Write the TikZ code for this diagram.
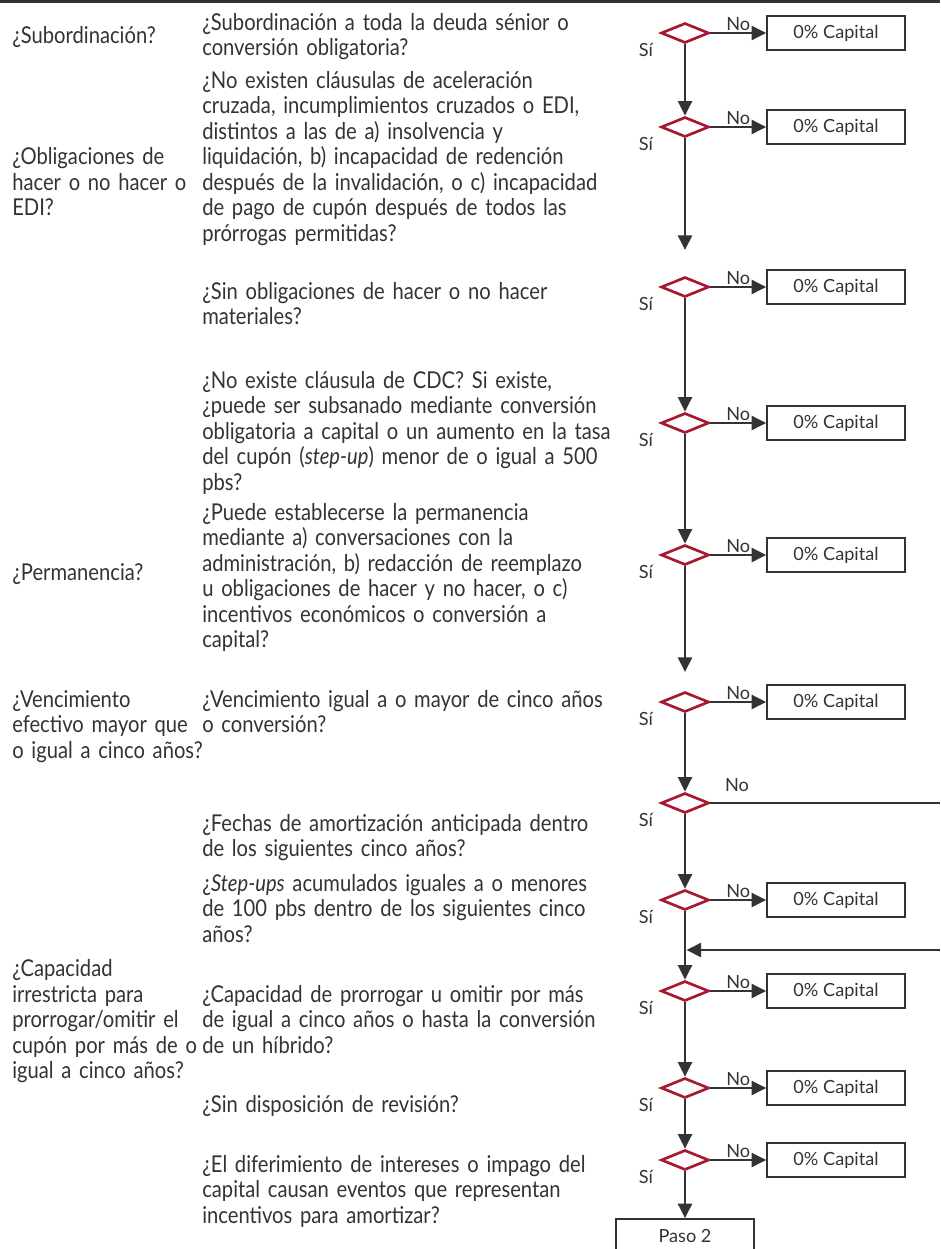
\documentclass[tikz,border=0pt]{standalone}
\usepackage{fontspec}
\setmainfont{Lato}[FakeStretch=0.87,WordSpace=0.72]
\newfontfamily\tagfont{Lato}
\usepackage{xcolor}
\usetikzlibrary{positioning,shapes.geometric,arrows.meta}
\definecolor{ink}{HTML}{333333}
\definecolor{crimson}{HTML}{A6192E}
\setlength{\lineskiplimit}{-20pt}
\tikzset{
        txt/.style={anchor=base west,inner sep=0,align=left,text=ink,
            font=\fontsize{17.4}{19.125}\selectfont},
        qtxt/.style={txt,text width=380pt},
        ltxt/.style={txt,text width=180pt},
        choice/.style={diamond,draw=crimson,line width=2pt,minimum width=36pt,
            minimum height=15pt,inner sep=0,aspect=2.4},
        capbox/.style={draw=ink,line width=1.2pt,minimum width=103.5pt,
            minimum height=25.5pt,inner sep=0,text=ink,font=\tagfont\fontsize{13.6}{16}\selectfont},
        flow/.style={ink,line width=2pt,-{Triangle[length=11pt,width=10.5pt]}},
        wire/.style={ink,line width=2pt},
        tag/.style={text=ink,font=\tagfont\fontsize{13.6}{16}\selectfont,inner sep=1pt},
}

\begin{document}
\begin{tikzpicture}[x=0.75pt,y=-0.75pt]
        \useasboundingbox (0,0) rectangle (940,1249);
        \draw[ink,line width=2.25pt] (0,1.5) -- (940,1.5); % top rule

        % Left column
        \node[ltxt] (l1) at (12,43) {¿Subordinación?};
        \node[ltxt] (l2) at (12,164.5) {¿Obligaciones de\\hacer o no hacer o\\EDI?};
        \node[ltxt] (l3) at (12,580) {¿Permanencia?};
        \node[ltxt] (l4) at (12,707) {¿Vencimiento\\efectivo mayor que\\o igual a cinco años?};
        \node[ltxt] (l5) at (12,976.5) {¿Capacidad\\irrestricta para\\prorrogar/omitir el\\cupón por más de o\\igual a cinco años?};

        % Questions
        \node[qtxt] (q1) at (202,30) {¿Subordinación a toda la deuda sénior o\\conversión obligatoria?};
        \node[qtxt] (q2) at (202,88) {¿No existen cláusulas de aceleración\\cruzada, incumplimientos cruzados o EDI,\\distintos a las de a) insolvencia y\\liquidación, b) incapacidad de redención\\después de la invalidación, o c) incapacidad\\de pago de cupón después de todos las\\prórrogas permitidas?};
        \node[qtxt] (q3) at (202,299) {¿Sin obligaciones de hacer o no hacer\\materiales?};
        \node[qtxt] (q4) at (202,388) {¿No existe cláusula de CDC? Si existe,\\¿puede ser subsanado mediante conversión\\obligatoria a capital o un aumento en la tasa\\del cupón (\textit{step-up}) menor de o igual a 500\\pbs?};
        \node[qtxt] (q5) at (202,520) {¿Puede establecerse la permanencia\\mediante a) conversaciones con la\\administración, b) redacción de reemplazo\\u obligaciones de hacer y no hacer, o c)\\incentivos económicos o conversión a\\capital?};
        \node[qtxt] (q6) at (202,707) {¿Vencimiento igual a o mayor de cinco años\\o conversión?};
        \node[qtxt] (q7) at (202,831) {¿Fechas de amortización anticipada dentro\\de los siguientes cinco años?};
        \node[qtxt] (q8) at (202,891) {¿\textit{Step-ups} acumulados iguales a o menores\\de 100 pbs dentro de los siguientes cinco\\años?};
        \node[qtxt] (q9) at (202,1002) {¿Capacidad de prorrogar u omitir por más\\de igual a cinco años o hasta la conversión\\de un híbrido?};
        \node[qtxt] (q10) at (202,1112) {¿Sin disposición de revisión?};
        \node[qtxt] (q11) at (202,1172) {¿El diferimiento de intereses o impago del\\capital causan eventos que representan\\incentivos para amortizar?};

        % Decisions
        \node[choice] (d1) at (685,33) {};
        \node[choice] (d2) at (685,127) {};
        \node[choice] (d3) at (685,287) {};
        \node[choice] (d4) at (685,423) {};
        \node[choice] (d5) at (685,555) {};
        \node[choice] (d6) at (685,702) {};
        \node[choice] (d7) at (685,803) {};
        \node[choice] (d8) at (685,900) {};
        \node[choice] (d9) at (685,991) {};
        \node[choice] (d10) at (685,1088) {};
        \node[choice] (d11) at (685,1160) {};

        % Outcomes
        \node[capbox] (c1) at (836,33) {0\% Capital};
        \node[capbox] (c2) at (836,127) {0\% Capital};
        \node[capbox] (c3) at (836,287) {0\% Capital};
        \node[capbox] (c4) at (836,423) {0\% Capital};
        \node[capbox] (c5) at (836,555) {0\% Capital};
        \node[capbox] (c6) at (836,702) {0\% Capital};
        \node[capbox] (c8) at (836,900) {0\% Capital};
        \node[capbox] (c9) at (836,991) {0\% Capital};
        \node[capbox] (c10) at (836,1088) {0\% Capital};
        \node[capbox] (c11) at (836,1160) {0\% Capital};
        \node[capbox] (p2) at (685,1236) {Paso 2};

        % Sí labels
        \node[tag] (s1) at (646,50) {Sí};
        \node[tag] (s2) at (646,144) {Sí};
        \node[tag] (s3) at (646,304) {Sí};
        \node[tag] (s4) at (646,440) {Sí};
        \node[tag] (s5) at (646,572) {Sí};
        \node[tag] (s6) at (646,719) {Sí};
        \node[tag] (s7) at (646,820) {Sí};
        \node[tag] (s8) at (646,917) {Sí};
        \node[tag] (s9) at (646,1008) {Sí};
        \node[tag] (s10) at (646,1105) {Sí};
        \node[tag] (s11) at (646,1177) {Sí};

        % No branches
        \draw[flow] (d1) -- node[tag,above=0pt] (n1) {No} (c1);
        \draw[flow] (d2) -- node[tag,above=0pt] (n2) {No} (c2);
        \draw[flow] (d3) -- node[tag,above=0pt] (n3) {No} (c3);
        \draw[flow] (d4) -- node[tag,above=0pt] (n4) {No} (c4);
        \draw[flow] (d5) -- node[tag,above=0pt] (n5) {No} (c5);
        \draw[flow] (d6) -- node[tag,above=0pt] (n6) {No} (c6);
        \draw[flow] (d8) -- node[tag,above=0pt] (n8) {No} (c8);
        \draw[flow] (d9) -- node[tag,above=0pt] (n9) {No} (c9);
        \draw[flow] (d10) -- node[tag,above=0pt] (n10) {No} (c10);
        \draw[flow] (d11) -- node[tag,above=0pt] (n11) {No} (c11);
        \coordinate (r7) at (940,803);
        \draw[wire] (d7) -- (r7);
        \node[tag] (n7) at (737,785) {No};

        % Sí path
        \coordinate (e2) at (685,250);
        \coordinate (e5) at (685,672);
        \coordinate (r8) at (940,950);
        \coordinate (m8) at (686.5,950);
        \draw[flow] (d1) -- (d2);
        \draw[flow] (d2) -- (e2);
        \draw[flow] (d3) -- (d4);
        \draw[flow] (d4) -- (d5);
        \draw[flow] (d5) -- (e5);
        \draw[flow] (d6) -- (d7);
        \draw[flow] (d7) -- (d8);
        \draw[flow] (d8) -- (d9);
        \draw[flow] (r8) -- (m8); % back from No
        \draw[flow] (d9) -- (d10);
        \draw[flow] (d10) -- (d11);
        \draw[flow] (d11) -- (p2);
\end{tikzpicture}
\end{document}
